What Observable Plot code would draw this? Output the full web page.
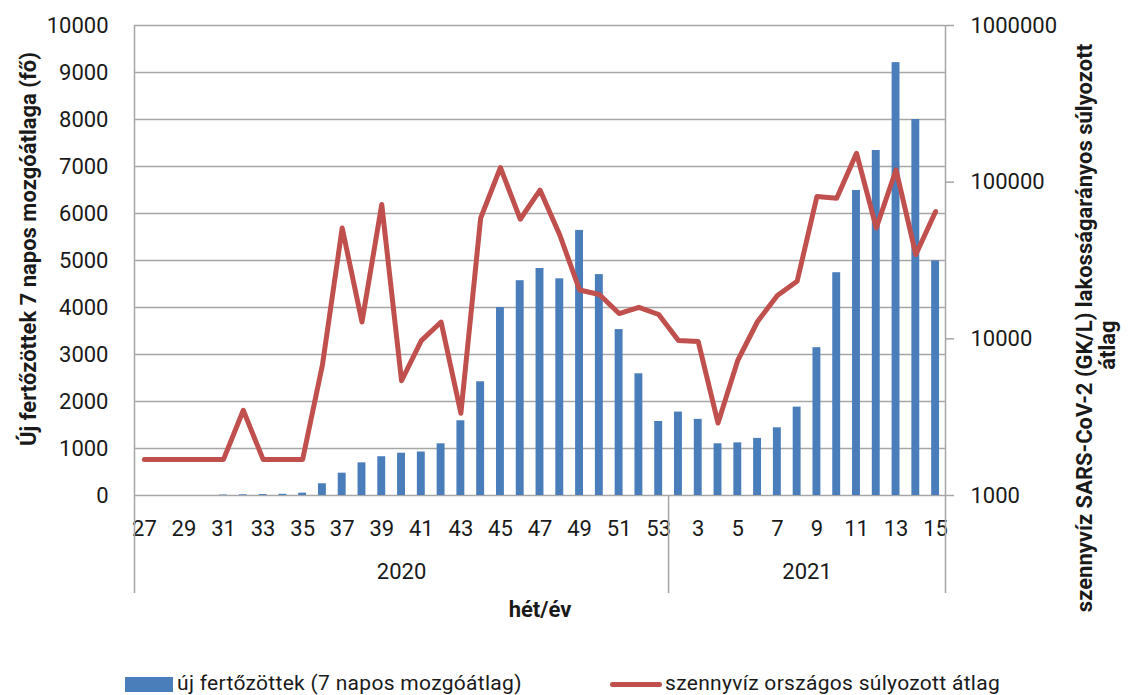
<!DOCTYPE html>
<html><head><meta charset="utf-8">
<script src="https://cdn.jsdelivr.net/npm/d3@7"></script>
<script src="https://cdn.jsdelivr.net/npm/@observablehq/plot@0.6"></script>
<style>
body{margin:0;background:#fff;font-family:Roboto,sans-serif;color:#1a1a1a;}
#chart{position:relative;width:1132px;height:695px;overflow:hidden;}
#chart svg{position:absolute;left:0;top:0;}
.vt{position:absolute;transform:translate(-50%,-50%) rotate(-90deg);white-space:nowrap;font-weight:bold;font-size:22px;line-height:1;}
.lg{position:absolute;white-space:nowrap;font-size:21px;line-height:1;transform:translateY(-50%);letter-spacing:0.3px;}
</style></head><body><div id="chart"></div>
<script>
const weeks2020 = [27,28,29,30,31,32,33,34,35,36,37,38,39,40,41,42,43,44,45,46,47,48,49,50,51,52,53];
const weeks2021 = [2,3,4,5,6,7,8,9,10,11,12,13,14,15];
const years = ["2020","2021"];
const cases2020 = [0,0,0,0,10,15,20,25,50,250,475,695,825,900,925,1100,1590,2420,4000,4570,4830,4610,5640,4700,3530,2590,1575];
const cases2021 = [1775,1620,1100,1120,1215,1440,1880,3145,4740,6490,7340,9210,8000,4990];
const sewage2020 = [1700,1700,1700,1700,1700,3500,1700,1700,1700,6800,51000,12800,72000,5400,9750,12800,3350,59000,124000,58000,89000,46000,20500,19200,14500,15900,14300];
const sewage2021 = [9750,9600,2900,7300,12900,18900,23300,81000,79000,153000,51000,120000,34500,65000];
const yTicksLeft = [0,1000,2000,3000,4000,5000,6000,7000,8000,9000,10000];
const yTicksRight = [1000,10000,100000,1000000];
const seriesNames = ["új fertőzöttek (7 napos mozgóátlag)","szennyvíz országos súlyozott átlag"];
const leftTitle = "Új fertőzöttek 7 napos mozgóátlaga (fő)";
const rightTitle = ["szennyvíz SARS-CoV-2 (GK/L) lakosságarányos súlyozott","átlag"];
const xTitle = "hét/év";

const rows = [
  ...weeks2020.map((w,i)=>({year:years[0],week:w,cases:cases2020[i],sewage:sewage2020[i]})),
  ...weeks2021.map((w,i)=>({year:years[1],week:w,cases:cases2021[i],sewage:sewage2021[i]}))
];
rows.forEach((d,i)=>{d.key=d.year+"-"+d.week; d.idx=i;});
const keys = rows.map(d=>d.key);
const n = rows.length;
const yearRows = [
  {year:years[0], mid: weeks2020.length/2},
  {year:years[1], mid: weeks2020.length + weeks2021.length/2}
];

const BLUE="#4a7ebb", RED="#c0504d", GRID="#a6a6a6", TXT="#1a1a1a";
const common = {width:1132,height:650,marginLeft:134,marginRight:187,marginTop:25,marginBottom:155,
  style:{fontFamily:"Roboto, sans-serif",fontSize:"22px",color:TXT,background:"transparent",overflow:"visible"}};

const p1 = Plot.plot({...common,
  x:{type:"band",domain:keys,paddingInner:0.6,paddingOuter:0.3,axis:null,label:null},
  y:{domain:[0,10000],axis:null,label:null},
  marks:[
    Plot.gridY(yTicksLeft,{stroke:GRID,strokeOpacity:1,strokeWidth:1.5}),
    Plot.barY(rows,{x:"key",y:"cases",fill:BLUE}),
    Plot.axisY(yTicksLeft,{anchor:"left",label:null,tickSize:0,tickPadding:26,tickFormat:d=>String(d),fontSize:22}),
    Plot.axisX(keys.filter((k,i)=>i%2===0),{anchor:"bottom",label:null,tickSize:0,tickPadding:25,tickFormat:k=>k.split("-")[1],fontSize:22})
  ]});

const p2 = Plot.plot({...common,
  x:{type:"linear",domain:[0,n],axis:null,label:null},
  y:{type:"log",domain:[1000,1000000],axis:null,label:null},
  marks:[
    Plot.ruleX([0,n],{stroke:GRID,strokeWidth:1.5,insetBottom:-98}),
    Plot.ruleX([weeks2020.length],{stroke:GRID,strokeWidth:1.5,insetTop:470,insetBottom:-98}),
    Plot.lineY(rows,{x:d=>d.idx+0.5,y:"sewage",stroke:RED,strokeWidth:5,strokeLinejoin:"round",strokeLinecap:"round"}),
    Plot.axisY(yTicksRight,{anchor:"right",label:null,tickSize:8,tickPadding:17,stroke:GRID,strokeWidth:1.5,tickFormat:d=>String(d),fontSize:22}),
    Plot.text(yearRows,{x:"mid",text:"year",frameAnchor:"bottom",dy:83,fontSize:22,fill:TXT}),
    Plot.text([xTitle],{frameAnchor:"bottom",dy:121,fontWeight:"bold",fontSize:22,fill:TXT})
  ]});

const chart = document.getElementById("chart");
chart.appendChild(p1);
chart.appendChild(p2);

function addDiv(cls, text, left, top, extra){
  const d=document.createElement("div"); d.className=cls; d.textContent=text;
  d.style.left=left+"px"; d.style.top=top+"px";
  if(extra) Object.assign(d.style, extra);
  chart.appendChild(d); return d;
}
addDiv("vt", leftTitle, 29, 249);
addDiv("vt", rightTitle[0], 1085, 328);
addDiv("vt", rightTitle[1], 1108, 345);

// legend
const sw1=document.createElement("div");
Object.assign(sw1.style,{position:"absolute",left:"125px",top:"677px",width:"48px",height:"15px",background:BLUE});
chart.appendChild(sw1);
addDiv("lg", seriesNames[0], 177, 683);
const sw2=document.createElement("div");
Object.assign(sw2.style,{position:"absolute",left:"610px",top:"682px",width:"52px",height:"5px",background:RED,borderRadius:"3px"});
chart.appendChild(sw2);
addDiv("lg", seriesNames[1], 665, 683);
</script></body></html>
